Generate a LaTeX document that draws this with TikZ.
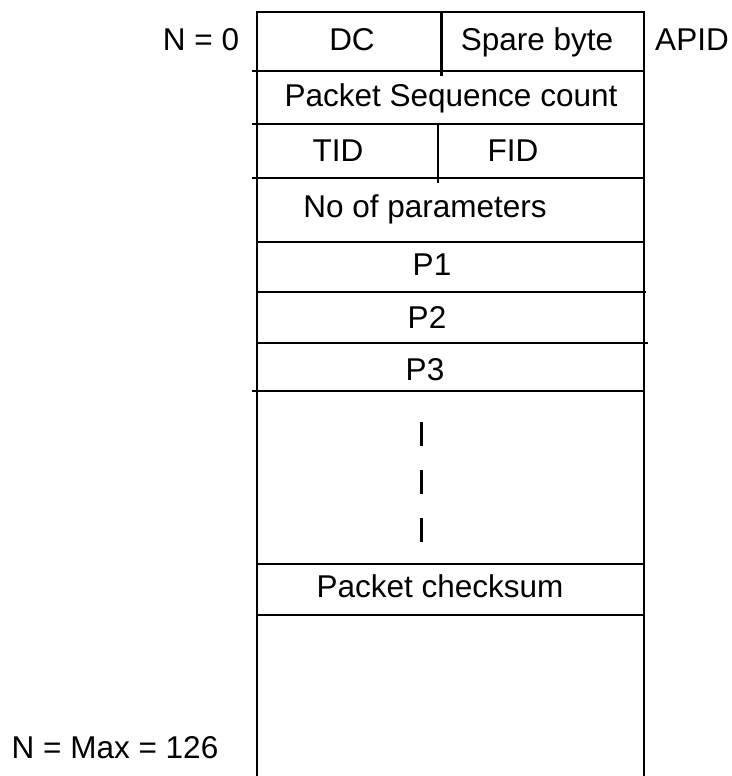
\documentclass[tikz,border=0pt]{standalone}
\usepackage{fontspec}
\setmainfont{Liberation Sans}
\usepackage{tikz}
\usetikzlibrary{positioning}
\tikzstyle{fld}  = [inner sep=0pt, anchor=base,
                    font=\fontsize{31.5}{36}\selectfont]
\tikzstyle{rule} = [line width=2.8pt, line cap=rect]

\begin{document}
\begin{tikzpicture}[x=1pt, y=-1pt]
  \useasboundingbox (0,0) rectangle (731,776);
  % frame of the packet
  \draw[rule] (257,776) -- (257,12) -- (644,12) -- (644,776);
  \foreach \y/\xa/\xb in {71/253/644, 124/253/644, 178/253/644,
                          242/257/644, 292/257/645, 343/257/647,
                          391/253/644, 564/257/644, 615/257/644}
    \draw[rule] (\xa,\y) -- (\xb,\y);
  \draw[rule] (441.5,12) -- (441.5,75);
  \draw[rule] (438,124) -- (438,182);
  % fields
  \node[fld] (dc)    at (352,51)  {DC};
  \node[fld] (spare) at (537,51)  {Spare byte};
  \node[fld] (seq)   at (451,106) {Packet Sequence count};
  \node[fld] (tid)   at (338,161) {TID};
  \node[fld] (fid)   at (513,161) {FID};
  \node[fld] (npar)  at (425,217) {No of parameters};
  \node[fld] (p1)    at (432,275) {P1};
  \node[fld] (p2)    at (427,328) {P2};
  \node[fld] (p3)    at (425,380) {P3};
  \node[fld] (chk)   at (440,597) {Packet checksum};
  \draw[line width=2.8pt, dash pattern=on 24pt off 24pt]
    (421.7,422) -- (421.7,542);
  % side labels
  \node[fld] (first) at (201,51)  {N = 0};
  \node[fld] (apid)  at (692,51)  {APID};
  \node[fld] (last)  at (115,758) {N = Max = 126};
\end{tikzpicture}
\end{document}
